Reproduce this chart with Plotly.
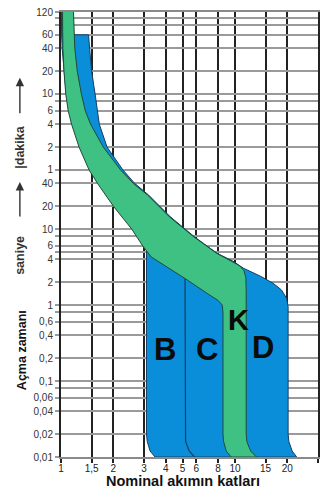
import math
import plotly.graph_objects as go

# ---------------- data ----------------
x_tick_values = [1, 1.5, 2, 3, 4, 5, 6, 8, 10, 15, 20, 30]
x_tick_labels = ["1", "1,5", "2", "3", "4", "5", "6", "8", "10", "15", "20", "30"]

# horizontal grid lines, in seconds (minutes section converted: 1 min = 60 s)
y_grid_seconds = [0.01, 0.02, 0.04, 0.06, 0.08, 0.1, 0.2, 0.4, 0.6, 0.8,
                  1, 2, 4, 5, 6, 8, 10, 20, 40,
                  60, 120, 240, 360, 480, 600, 1200, 2400, 3600, 4800, 6000, 7200]
y_grid_labels = ["0,01", "0,02", "0,04", "0,06", "", "0,1", "0,2", "0,4", "0,6", "",
                 "1", "2", "4", "", "6", "", "10", "20", "40",
                 "1", "2", "4", "6", "", "10", "20", "40", "60", "", "", "120"]

# K curve band (green): left (lower) limit and right (upper) limit
green_left_x = [1.02, 1.02, 1.025, 1.04, 1.065, 1.10, 1.15, 1.27, 1.45, 1.62, 2.0, 2.55,
                2.95, 3.3, 4.05, 5.3, 6.9, 8.0, 8.45, 8.53, 8.53, 8.6, 8.9, 9.5]
green_left_t = [7200, 4000, 2400, 1200, 600, 360, 240, 120, 60, 40, 20, 10,
                6, 4.3, 3.2, 2.15, 1.43, 1.15, 1.0, 0.8, 0.02, 0.016, 0.012, 0.01]
green_right_x = [1.18, 1.19, 1.20, 1.24, 1.31, 1.38, 1.48, 1.75, 2.2, 2.6, 3.15, 4.2,
                 5.8, 7.85, 9.6, 10.6, 11.25, 11.55, 11.6, 11.6, 11.7, 12.3, 13.3]
green_right_t = [7200, 3600, 2400, 1200, 600, 360, 240, 120, 60, 40, 28, 14.5,
                 7.9, 4.8, 3.75, 3.3, 2.85, 2.3, 1.5, 0.02, 0.016, 0.012, 0.01]

# B / C / D band (blue) outline, clockwise from top-left
blue_x = [1.005, 1.17, 1.18, 1.44, 1.46, 1.50, 1.57, 1.62, 1.66, 1.84, 2.27, 2.65, 3.19,
          4.25, 5.85, 7.9, 9.7, 11.2, 14.0, 16.6, 18.5, 19.8, 20.2, 20.2, 20.4, 21.3, 22.6,
          3.47, 3.25, 3.13, 3.1, 3.1, 3.0, 2.6, 2.08, 1.68, 1.5, 1.32, 1.19, 1.12,
          1.07, 1.04, 1.015, 1.008, 1.005]
blue_t = [7200, 7200, 3600, 3600, 2400, 1200, 600, 360, 240, 120, 60, 40, 28,
          14.5, 7.9, 4.8, 3.8, 3.05, 2.4, 1.93, 1.58, 1.23, 0.95, 0.02, 0.016, 0.012, 0.01,
          0.01, 0.012, 0.016, 0.02, 5.3, 6.3, 10.5, 21, 42, 62, 125, 250, 370,
          620, 1250, 2400, 3600, 7200]

# B / C separation line
bc_x = [5.16, 5.16, 5.2, 5.45, 5.85]
bc_t = [2.3, 0.02, 0.016, 0.012, 0.01]

curve_names = ["B", "C", "K", "D"]
curve_label_x = [3.96, 6.88, 10.45, 14.5]
curve_label_t = [0.257, 0.257, 0.64, 0.273]

# ---------------- figure ----------------
FONT = "Liberation Sans, Arial, sans-serif"
BLUE = "#0a8ed9"
GREEN = "#3ec183"

fig = go.Figure()
fig.add_trace(go.Scatter(x=blue_x, y=blue_t, mode="lines", fill="toself",
                         fillcolor=BLUE, line=dict(color="#173e63", width=1),
                         hoverinfo="skip", showlegend=False))
fig.add_trace(go.Scatter(x=bc_x, y=bc_t, mode="lines",
                         line=dict(color="#173e63", width=1.2),
                         hoverinfo="skip", showlegend=False))
fig.add_trace(go.Scatter(x=green_left_x + green_right_x[::-1],
                         y=green_left_t + green_right_t[::-1],
                         mode="lines", fill="toself", fillcolor=GREEN,
                         line=dict(color="#1f4a3a", width=1),
                         hoverinfo="skip", showlegend=False))

annotations = []
for name, lx, lt in zip(curve_names, curve_label_x, curve_label_t):
    annotations.append(dict(x=math.log10(lx), y=math.log10(lt), xref="x", yref="y",
                            xanchor="center", yanchor="middle",
                            text="<b>%s</b>" % name, showarrow=False,
                            font=dict(family=FONT, size=31 if name != "K" else 29, color="#0b0b0b")))

# axis titles and arrows (paper coordinates)
annotations += [
    dict(x=0.475, y=-0.054, xref="paper", yref="paper", text="<b>Nominal akımın katları</b>",
         xanchor="center", yanchor="middle",
         showarrow=False, font=dict(family=FONT, size=14.5, color="#111")),
    dict(x=-0.152, y=0.240, xref="paper", yref="paper", text="<b>Açma zamanı</b>",
         xanchor="center", yanchor="middle",
         textangle=-90, showarrow=False, font=dict(family=FONT, size=12.5, color="#111")),
    dict(x=-0.160, y=0.454, xref="paper", yref="paper", text="<b>saniye</b>",
         xanchor="center", yanchor="middle",
         textangle=-90, showarrow=False, font=dict(family=FONT, size=12.5, color="#333")),
    dict(x=-0.160, y=0.697, xref="paper", yref="paper", text="<b>|dakika</b>",
         xanchor="center", yanchor="middle",
         textangle=-90, showarrow=False, font=dict(family=FONT, size=12.5, color="#333")),
    dict(x=-0.160, y=0.618, xref="paper", yref="paper", text="", showarrow=True,
         ax=0, ay=36, arrowhead=2, arrowsize=1.2, arrowwidth=1.4, arrowcolor="#333"),
    dict(x=-0.160, y=0.852, xref="paper", yref="paper", text="", showarrow=True,
         ax=0, ay=37, arrowhead=2, arrowsize=1.2, arrowwidth=1.4, arrowcolor="#333"),
]

fig.update_layout(
    width=320, height=497, autosize=False,
    margin=dict(l=61, r=2, t=12, b=40, pad=0),
    paper_bgcolor="white", plot_bgcolor="white",
    showlegend=False,
    annotations=annotations,
    xaxis=dict(type="log", range=[0, math.log10(30)], tickvals=x_tick_values,
               ticktext=x_tick_labels, showgrid=True, gridcolor="#222", gridwidth=2,
               ticks="outside", ticklen=4, tickwidth=2, tickcolor="#222",
               ticklabelstandoff=-3,
               showline=True, linecolor="#8a8a8a", linewidth=1.5, mirror=True,
               zeroline=False, automargin=False,
               tickfont=dict(family=FONT, size=10, color="#222")),
    yaxis=dict(type="log", range=[-2, math.log10(7200)], tickvals=y_grid_seconds,
               ticktext=y_grid_labels, showgrid=True, gridcolor="#9a9a9a", gridwidth=1.5,
               ticks="outside", ticklen=4, tickwidth=1.5, tickcolor="#9a9a9a",
               showline=True, linecolor="#222", linewidth=2, mirror=True,
               zeroline=False, automargin=False,
               tickfont=dict(family=FONT, size=10, color="#333")),
)

fig.write_html("out.html", config={"displayModeBar": False},
               post_script="document.body.style.margin='0';document.body.style.overflow='hidden';")
